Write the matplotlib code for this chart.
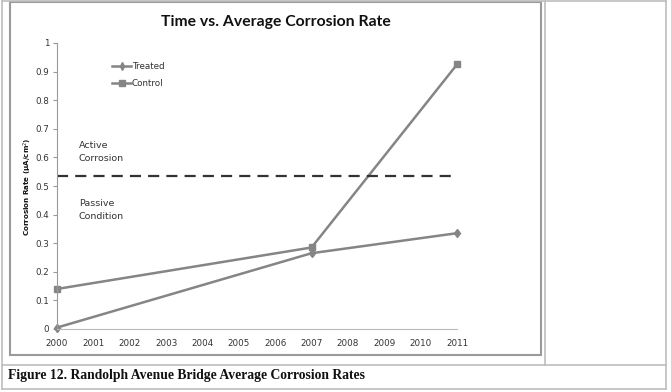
import matplotlib.pyplot as plt
from matplotlib.patches import Rectangle
from matplotlib.lines import Line2D

# data
years = [2000, 2007, 2011]
treated = [0.005, 0.265, 0.335]
control = [0.14, 0.285, 0.925]
threshold = 0.535
year_ticks = list(range(2000, 2012))
rate_ticks = [0, 0.1, 0.2, 0.3, 0.4, 0.5, 0.6, 0.7, 0.8, 0.9, 1]
rate_labels = ['0', '0.1', '0.2', '0.3', '0.4', '0.5', '0.6', '0.7', '0.8', '0.9', '1']

W, H = 671, 392
fig = plt.figure(figsize=(W / 100, H / 100), dpi=100)


def fx(x):
    return x / W


def fy(y):
    return 1 - y / H


# document table frame and chart frame
def hline(x0, x1, y, c='#bdbdbd', lw=1.2):
    fig.add_artist(Line2D([fx(x0), fx(x1)], [fy(y), fy(y)], color=c, lw=lw))


def vline(x, y0, y1, c='#bdbdbd', lw=1.2):
    fig.add_artist(Line2D([fx(x), fx(x)], [fy(y0), fy(y1)], color=c, lw=lw))


hline(2, 666, 1)
hline(2, 666, 365)
hline(2, 666, 389)
vline(2, 1, 389)
vline(666, 1, 389)
vline(545, 1, 365)
# chart box
fig.add_artist(Rectangle((fx(10), fy(355)), fx(541) - fx(10), fy(2) - fy(355),
                         fill=False, ec='#9a9a9a', lw=1.5))

ax = fig.add_axes([fx(57), fy(329), fx(457) - fx(57), fy(43) - fy(329)])
gray = '#858585'
ax.plot(years, treated, color=gray, lw=1.8, marker='d', ms=4.5, label='Treated')
ax.plot(years, control, color=gray, lw=1.8, marker='s', ms=5, label='Control')
ax.plot([2000, 2011], [threshold, threshold], color='#333333', lw=1.6, ls=(0, (5, 3.2)))

ax.set_xlim(2000, 2011)
ax.set_ylim(0, 1)
ax.set_xticks(year_ticks)
ax.set_xticklabels([str(y) for y in year_ticks], fontsize=6.3, color='#333333')
ax.set_yticks(rate_ticks)
ax.set_yticklabels(rate_labels, fontsize=6.3, color='#333333')
ax.tick_params(axis='x', length=0, pad=7)
ax.tick_params(axis='y', length=3, width=0.8, color='#999999', pad=2.5)
for s in ['top', 'right']:
    ax.spines[s].set_visible(False)
ax.spines['left'].set_color('#999999')
ax.spines['bottom'].set_color('#bbbbbb')
ax.spines['left'].set_linewidth(0.8)
ax.spines['bottom'].set_linewidth(0.8)
for p in [ax.lines[0], ax.lines[1]]:
    p.set_clip_on(False)

ax.legend(loc='upper left', bbox_to_anchor=(0.1175, 0.962), frameon=False, fontsize=6.3,
          handlelength=2.2, handletextpad=0.1, labelspacing=0.95, labelcolor='#333333',
          markerscale=0.8)

ax.text(2000.6, 0.62, 'Active\nCorrosion', fontsize=6.8, color='#333333', linespacing=1.6,
        va='center')
ax.text(2000.6, 0.416, 'Passive\nCondition', fontsize=6.8, color='#333333', linespacing=1.6,
        va='center')

fig.text(fx(276), fy(22), 'Time vs. Average Corrosion Rate', ha='center', va='center',
         fontsize=11.3, fontweight='bold', family='Lato', color='#111111')
fig.text(fx(28), fy(187), 'Corrosion Rate (\u03bcA/cm$^2$)', rotation=90, ha='center', va='center',
         fontsize=5.1, fontweight='bold', color='#111111')
fig.text(fx(8), fy(375), 'Figure 12. Randolph Avenue Bridge Average Corrosion Rates', ha='left',
         va='center', fontsize=9.8, fontweight='bold', family='Liberation Serif', color='#111111')

fig.savefig('out.png', dpi=100)
